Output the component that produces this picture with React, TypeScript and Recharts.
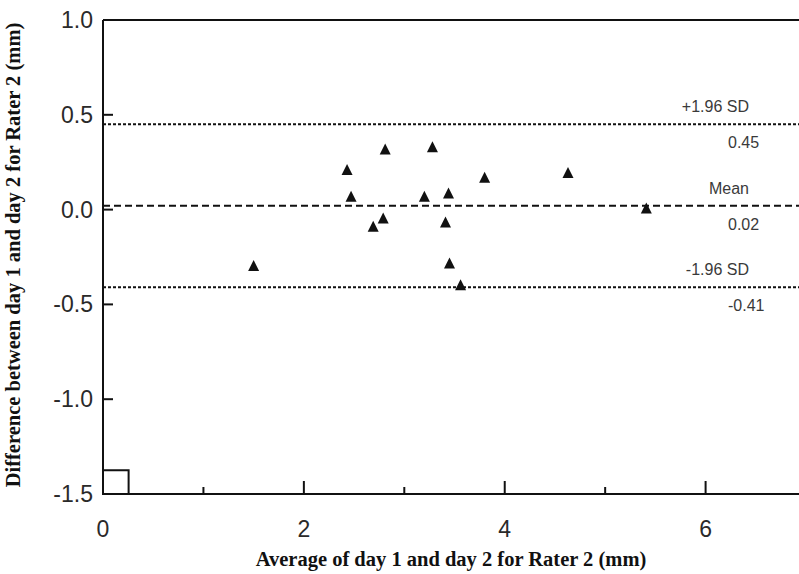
import React from 'react';
import {
  ComposedChart,
  Scatter,
  XAxis,
  YAxis,
  ReferenceLine,
  ReferenceArea,
} from 'recharts';

// mean of the two days (x) and difference between them (y), one entry per subject
const averages = [1.5, 2.43, 2.47, 2.81, 3.28, 3.8, 3.2, 3.44, 2.79, 2.69, 3.41, 3.45, 3.56, 4.63, 5.41];
const differences = [-0.295, 0.211, 0.07, 0.32, 0.331, 0.17, 0.07, 0.088, -0.044, -0.088, -0.065, -0.281, -0.397, 0.196, 0.009];

const xTicks = [0, 1, 2, 3, 4, 5, 6];
const yTicks = [1.0, 0.5, 0.0, -0.5, -1.0, -1.5];

const limits = [
  { name: '+1.96 SD', value: 0.45, dash: '3 2' },
  { name: 'Mean', value: 0.02, dash: '7 4' },
  { name: '-1.96 SD', value: -0.41, dash: '3 2' },
];

const points = averages.map((avg, i) => ({ avg, diff: differences[i] }));

const INK = '#111';
const TEXT = '#2a2a2a';
const SANS = '"Liberation Sans", Arial, sans-serif';
const SERIF = '"Liberation Serif", "Times New Roman", serif';

const Triangle = (props: any) => {
  const { cx, cy } = props;
  if (cx == null || cy == null) return null;
  const h = 5.5;
  return <path d={`M${cx},${cy - h}L${cx + h},${cy + h}L${cx - h},${cy + h}Z`} fill={INK} />;
};

const XTick = (props: any) => {
  const { x, y, payload } = props;
  const major = payload.value % 2 === 0;
  return (
    <g>
      <line x1={x} x2={x} y1={y} y2={y - (major ? 13 : 7)} stroke={INK} strokeWidth={2} />
      {major && (
        <text x={x} y={y + 43} textAnchor="middle" fontSize={23} fontFamily={SANS} fill={TEXT}>
          {payload.value}
        </text>
      )}
    </g>
  );
};

const YTick = (props: any) => {
  const { x, y, payload } = props;
  return (
    <g>
      <line x1={x} x2={x + 10} y1={y} y2={y} stroke={INK} strokeWidth={2} />
      <text x={x - 10} y={y + 8} textAnchor="end" fontSize={23} fontFamily={SANS} fill={TEXT}>
        {payload.value.toFixed(1)}
      </text>
    </g>
  );
};

const LimitLabel = (props: any) => {
  const { viewBox, name, value } = props;
  if (!viewBox) return null;
  const right = viewBox.x + viewBox.width;
  const y = viewBox.y;
  return (
    <g fontFamily={SANS} fontSize={16} fill="#3a3a3a">
      <text x={right - 50} y={y - 12} textAnchor="end">{name}</text>
      <text x={right - 71} y={y + 24} textAnchor="start">{value.toFixed(2)}</text>
    </g>
  );
};

const XTitle = (props: any) => {
  const { viewBox } = props;
  return (
    <text x={viewBox.x + viewBox.width / 2} y={566} textAnchor="middle" fontFamily={SERIF} fontWeight="bold" fontSize={20.5} fill={INK}>
      Average of day 1 and day 2 for Rater 2 (mm)
    </text>
  );
};

const YTitle = () => (
  <text x={0} y={0} transform="translate(20, 255) rotate(-90)" textAnchor="middle" fontFamily={SERIF} fontWeight="bold" fontSize={20.5} fill={INK}>
    Difference between day 1 and day 2 for Rater 2 (mm)
  </text>
);

export default function App() {
  return (
    <div style={{ position: 'absolute', left: 0, top: 0, background: '#fff' }}>
      <ComposedChart width={799} height={574} data={points} margin={{ top: 20, right: 0, bottom: 0, left: 0 }}>
        <XAxis
          type="number"
          dataKey="avg"
          domain={[0, 6.93]}
          ticks={xTicks}
          allowDataOverflow
          height={80}
          tickSize={0}
          tickMargin={0}
          tickLine={false}
          tick={<XTick />}
          axisLine={{ stroke: INK, strokeWidth: 2 }}
          label={<XTitle />}
        />
        <YAxis
          type="number"
          dataKey="diff"
          domain={[-1.5, 1]}
          ticks={yTicks}
          allowDataOverflow
          width={103}
          tickSize={0}
          tickMargin={0}
          tickLine={false}
          tick={<YTick />}
          axisLine={{ stroke: INK, strokeWidth: 2 }}
          label={<YTitle />}
        />
        <ReferenceLine y={1} stroke={INK} strokeWidth={2} />
        <ReferenceArea x1={0} x2={0.255} y1={-1.5} y2={-1.375} fill="none" stroke={INK} strokeWidth={2} fillOpacity={0} />
        {limits.map((l) => (
          <ReferenceLine
            key={l.name}
            y={l.value}
            stroke={INK}
            strokeWidth={2}
            strokeDasharray={l.dash}
            label={<LimitLabel name={l.name} value={l.value} />}
          />
        ))}
        <Scatter dataKey="diff" shape={<Triangle />} isAnimationActive={false} />
      </ComposedChart>
    </div>
  );
}
